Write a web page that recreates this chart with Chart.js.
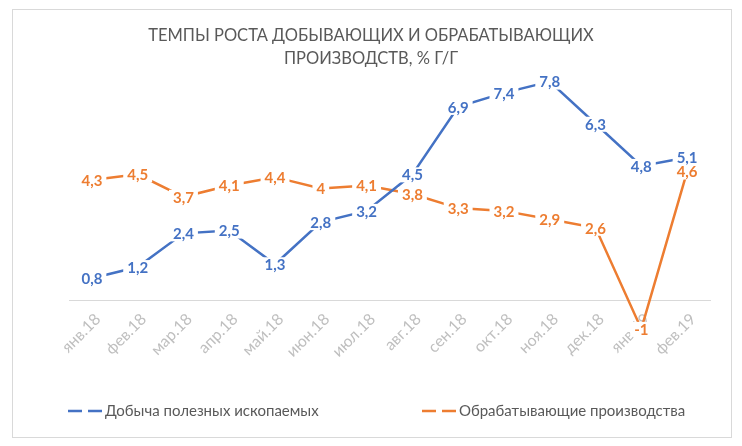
<!DOCTYPE html>
<html>
<head>
<meta charset="utf-8">
<script src="https://cdn.jsdelivr.net/npm/chart.js@4"></script>
<style>
  html, body { margin: 0; padding: 0; background: #fff; }
  #wrap { width: 742px; height: 446px; }
</style>
</head>
<body>
<div id="wrap"><canvas id="chart" width="742" height="446"></canvas></div>
<script>
// Данные графика
var months = ['янв.18', 'фев.18', 'мар.18', 'апр.18', 'май.18', 'июн.18', 'июл.18',
              'авг.18', 'сен.18', 'окт.18', 'ноя.18', 'дек.18', 'янв.19', 'фев.19'];
var mining = [0.8, 1.2, 2.4, 2.5, 1.3, 2.8, 3.2, 4.5, 6.9, 7.4, 7.8, 6.3, 4.8, 5.1];
var manufacturing = [4.3, 4.5, 3.7, 4.1, 4.4, 4, 4.1, 3.8, 3.3, 3.2, 2.9, 2.6, -1, 4.6];
var titleLines = ['ТЕМПЫ РОСТА ДОБЫВАЮЩИХ И ОБРАБАТЫВАЮЩИХ', 'ПРОИЗВОДСТВ, % Г/Г'];
var seriesNames = ['Добыча полезных ископаемых', 'Обрабатывающие производства'];

var BLUE = '#4472c4', ORANGE = '#ed7d31', TEXT = '#595959';

// подписи значений в центре точки, на белом фоне (как в Excel)
var valueLabels = {
    id: 'valueLabels',
    afterDatasetsDraw: function (chart) {
        var ctx = chart.ctx;
        ctx.save();
        ctx.font = 'bold 15px Lato';
        ctx.textAlign = 'center';
        ctx.textBaseline = 'middle';
        chart.data.datasets.forEach(function (ds, i) {
            var meta = chart.getDatasetMeta(i);
            meta.data.forEach(function (pt, j) {
                var txt = String(ds.data[j]).replace('.', ',');
                var w = ctx.measureText(txt).width;
                ctx.fillStyle = '#fff';
                ctx.fillRect(pt.x - w / 2 - 4, pt.y - 7, w + 8, 15);
                ctx.fillStyle = ds.borderColor;
                ctx.fillText(txt, pt.x, pt.y + 1);
            });
        });
        ctx.restore();
    }
};

// рамка, заголовок и легенда
var frame = {
    id: 'frame',
    afterDraw: function (chart) {
        var ctx = chart.ctx;
        ctx.save();
        ctx.strokeStyle = '#d9d9d9';
        ctx.lineWidth = 1;
        ctx.strokeRect(12.5, 9.5, 719, 428);

        ctx.fillStyle = TEXT;
        ctx.font = '16.5px Lato';
        ctx.textAlign = 'center';
        ctx.textBaseline = 'middle';
        ctx.fillText(titleLines[0], 371, 36);
        ctx.fillText(titleLines[1], 371, 59);

        var items = [{ x: 68, c: BLUE }, { x: 422, c: ORANGE }];
        ctx.font = '15px Lato';
        ctx.textAlign = 'left';
        items.forEach(function (it, i) {
            ctx.strokeStyle = it.c;
            ctx.lineWidth = 2.5;
            ctx.setLineDash([14, 6]);
            ctx.beginPath();
            ctx.moveTo(it.x, 411);
            ctx.lineTo(it.x + 34, 411);
            ctx.stroke();
            ctx.fillStyle = TEXT;
            ctx.fillText(seriesNames[i], it.x + 37, 411);
        });
        ctx.restore();
    }
};

new Chart(document.getElementById('chart').getContext('2d'), {
    type: 'line',
    data: {
        labels: months,
        datasets: [
            { label: seriesNames[0], data: mining, borderColor: BLUE, borderWidth: 2.5, pointRadius: 0, tension: 0 },
            { label: seriesNames[1], data: manufacturing, borderColor: ORANGE, borderWidth: 2.5, pointRadius: 0, tension: 0 }
        ]
    },
    options: {
        responsive: false, animation: false,
        layout: { padding: { left: 69, right: 32, top: 76, bottom: 89 } },
        scales: {
            x: {
                position: { y: 0 },
                offset: true,
                grid: { display: false },
                border: { display: true, color: '#d9d9d9', width: 1 },
                ticks: { color: '#bfbfbf', font: { family: 'Lato', size: 16 }, minRotation: 45, maxRotation: 45, padding: 1, labelOffset: 6 }
            },
            y: { display: false, min: -2, max: 8 }
        },
        plugins: { legend: { display: false }, title: { display: false }, tooltip: { enabled: false } }
    },
    plugins: [valueLabels, frame]
});
</script>
</body>
</html>
